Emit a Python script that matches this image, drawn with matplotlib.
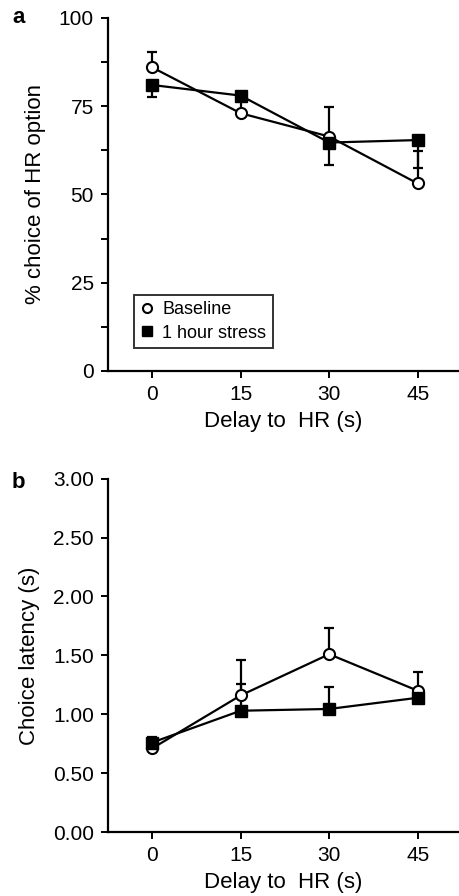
import matplotlib
matplotlib.use("Agg")
import matplotlib.pyplot as plt

plt.rcParams['font.family'] = ['Liberation Sans', 'DejaVu Sans']

delays = [0, 15, 30, 45]

# panel a: % choice of HR option
base_a = [86, 73, 66.4, 53.1]
base_a_err = [4.4, 4.0, 8.3, 9.1]
stress_a = [81, 78, 64.7, 65.4]
stress_a_err = [3.5, 0, 6.5, 8.0]

# panel b: choice latency (s)
base_b = [0.71, 1.16, 1.51, 1.20]
base_b_err = [0, 0.30, 0.22, 0.16]
stress_b = [0.76, 1.03, 1.045, 1.14]
stress_b_err = [0.05, 0.23, 0.19, 0]

fig = plt.figure(figsize=(4.59, 8.96), dpi=100)
ax_a = fig.add_axes([0.235, 0.586, 0.765, 0.394])
ax_b = fig.add_axes([0.235, 0.0714, 0.765, 0.3943])

def style(ax):
    for s in ('top', 'right'):
        ax.spines[s].set_visible(False)
    for s in ('left', 'bottom'):
        ax.spines[s].set_linewidth(1.6)
    ax.tick_params(which='both', direction='out', width=1.4, labelsize=15)
    ax.tick_params(which='major', length=5, pad=5)
    ax.tick_params(which='minor', length=5)
    ax.set_xlim(-7.5, 52)
    ax.set_xticks(delays)
    ax.set_xlabel("Delay to  HR (s)", fontsize=16, labelpad=5)

def draw(ax, base, base_err, stress, stress_err, stress_down):
    zero = [0] * len(delays)
    ax.errorbar(delays, base, yerr=[zero, base_err], fmt='none', ecolor='black',
                elinewidth=1.6, capsize=3.5, capthick=1.6, zorder=2)
    serr = [stress_err, zero] if stress_down else [zero, stress_err]
    ax.errorbar(delays, stress, yerr=serr, fmt='none', ecolor='black',
                elinewidth=1.6, capsize=3.5, capthick=1.6, zorder=2)
    ax.plot(delays, base, color='black', lw=1.6, marker='o', ms=8,
            mfc='white', mec='black', mew=1.5, label='Baseline', zorder=3)
    ax.plot(delays, stress, color='black', lw=1.6, marker='s', ms=8,
            mfc='black', mec='black', label='1 hour stress', zorder=3)

draw(ax_a, base_a, base_a_err, stress_a, stress_a_err, True)
style(ax_a)
ax_a.set_ylim(0, 100)
ax_a.set_yticks([0, 25, 50, 75, 100])
ax_a.set_yticks([12.5, 37.5, 62.5, 87.5], minor=True)
ax_a.set_ylabel("% choice of HR option", fontsize=16, labelpad=9)
leg = ax_a.legend(loc='lower left', bbox_to_anchor=(0.06, 0.05), fontsize=13,
                  frameon=True, fancybox=False, edgecolor='black',
                  handlelength=0.7, handletextpad=0.5, borderpad=0.35,
                  labelspacing=0.35, borderaxespad=0.3)
leg.get_frame().set_linewidth(1.4)
for h in leg.legend_handles:
    h.set_linestyle('none')
    h.set_markersize(6.5)

draw(ax_b, base_b, base_b_err, stress_b, stress_b_err, False)
style(ax_b)
ax_b.set_ylim(0, 3)
ax_b.set_yticks([0, 0.5, 1.0, 1.5, 2.0, 2.5, 3.0])
ax_b.set_yticklabels([f"{v:.2f}" for v in [0, 0.5, 1.0, 1.5, 2.0, 2.5, 3.0]])
ax_b.set_ylabel("Choice latency (s)", fontsize=16, labelpad=9)

fig.text(0.026, 0.974, "a", fontsize=16, fontweight='bold', va='baseline')
fig.text(0.026, 0.455, "b", fontsize=16, fontweight='bold', va='baseline')

fig.savefig("out.png", dpi=100)
